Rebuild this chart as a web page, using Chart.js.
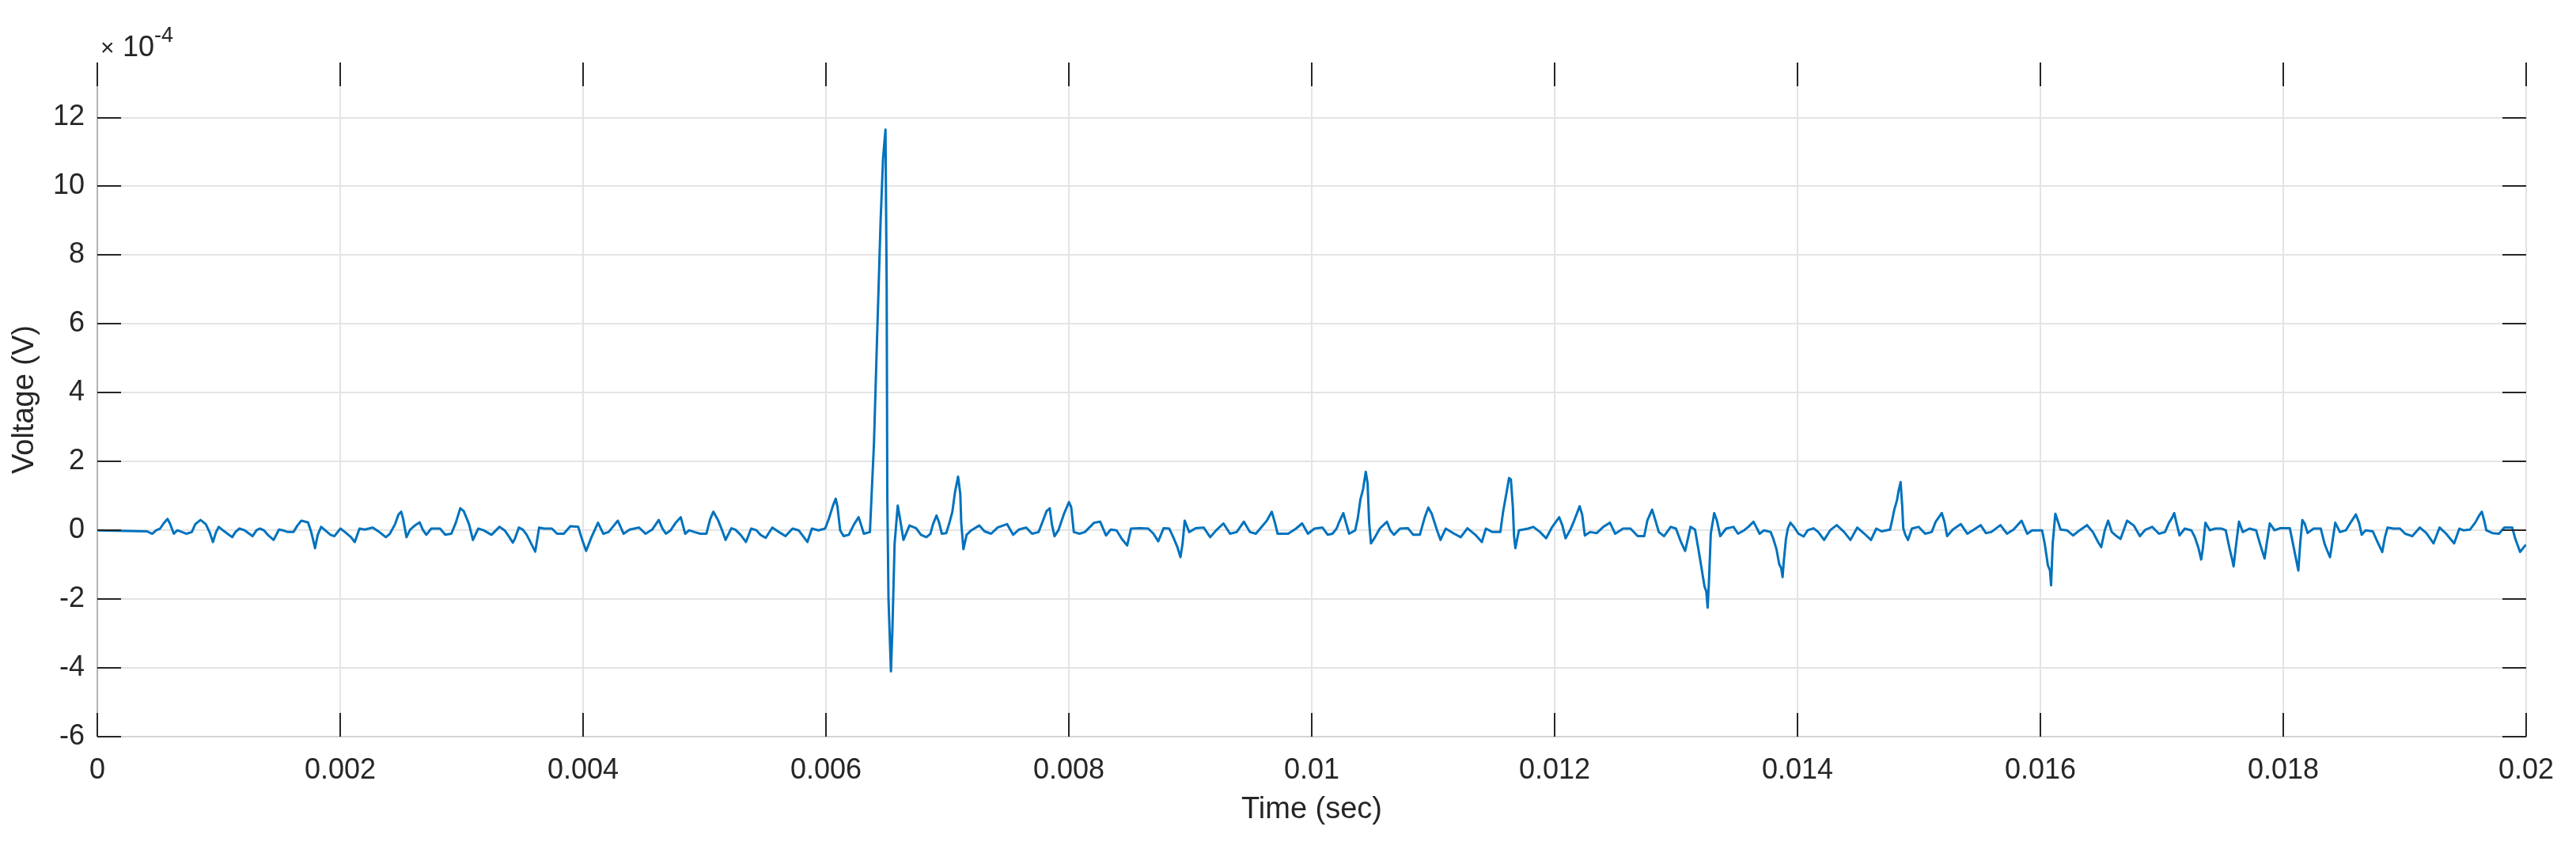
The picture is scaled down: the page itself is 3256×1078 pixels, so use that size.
<!DOCTYPE html>
<html>
<head>
<meta charset="utf-8">
<script src="https://cdn.jsdelivr.net/npm/chart.js@4.4.1/dist/chart.umd.min.js"></script>
<style>
  body { margin: 0; background: #fff; }
  canvas { display: block; }
</style>
</head>
<body>
<canvas id="voltageChart" width="3256" height="1078"></canvas>
<script>
// [time (ms), voltage (x1e-4 V)], split in chunks
var trace0to3 = [[0,0],[0.409,-0.03],[0.452,-0.1],[0.485,0],[0.517,0.05],[0.546,0.2],[0.578,0.33],[0.598,0.2],[0.630,-0.1],[0.659,0],
  [0.698,-0.05],[0.735,-0.1],[0.778,-0.05],[0.807,0.18],[0.850,0.3],[0.893,0.18],[0.924,-0.05],[0.952,-0.34],[0.978,-0.05],[1.000,0.1],
  [1.028,0.02],[1.072,-0.1],[1.111,-0.2],[1.137,-0.05],[1.170,0.05],[1.213,0],[1.278,-0.17],[1.311,0],[1.337,0.05],[1.372,0],
  [1.409,-0.15],[1.452,-0.28],[1.496,0.02],[1.528,0],[1.567,-0.05],[1.615,-0.05],[1.648,0.14],[1.680,0.28],[1.735,0.23],[1.757,0],
  [1.772,-0.2],[1.793,-0.52],[1.815,-0.13],[1.843,0.1],[1.876,0],[1.920,-0.13],[1.952,-0.17],[2.002,0.05],[2.039,-0.05],[2.089,-0.2],
  [2.120,-0.34],[2.159,0.05],[2.202,0.02],[2.268,0.08],[2.322,-0.05],[2.376,-0.2],[2.409,-0.1],[2.452,0.18],[2.480,0.46],[2.502,0.54],
  [2.517,0.35],[2.546,-0.2],[2.576,0.02],[2.615,0.14],[2.654,0.23],[2.680,0.02],[2.709,-0.13],[2.750,0.05],[2.822,0.05],[2.865,-0.13],
  [2.915,-0.1],[2.952,0.22],[2.989,0.64],[3.017,0.56],[3.061,0.18],[3.093,-0.28],[3.137,0.05],[3.180,0],[3.246,-0.13],[3.311,0.1],
  [3.354,0],[3.393,-0.2]];

var trace3to6 = [[3.421,-0.36],[3.438,-0.25],[3.471,0.08],[3.504,0.02],[3.536,-0.13],[3.569,-0.36],[3.606,-0.62],[3.638,0.08],[3.678,0.05],[3.743,0.05],
  [3.786,-0.1],[3.841,-0.1],[3.895,0.12],[3.960,0.1],[3.993,-0.28],[4.025,-0.6],[4.069,-0.2],[4.095,0],[4.123,0.22],[4.167,-0.1],
  [4.210,-0.05],[4.254,0.14],[4.286,0.28],[4.334,-0.1],[4.384,0.02],[4.460,0.08],[4.515,-0.1],[4.569,0.02],[4.623,0.3],[4.652,0.06],
  [4.682,-0.1],[4.721,0],[4.765,0.23],[4.804,0.38],[4.841,-0.1],[4.873,0],[4.917,-0.05],[4.965,-0.1],[5.015,-0.1],[5.047,0.33],
  [5.073,0.54],[5.112,0.29],[5.145,0],[5.173,-0.28],[5.221,0.06],[5.254,0.02],[5.297,-0.13],[5.341,-0.34],[5.384,0.05],[5.428,0],
  [5.460,-0.13],[5.504,-0.22],[5.558,0.08],[5.612,-0.05],[5.667,-0.17],[5.725,0.05],[5.775,0],[5.847,-0.34],[5.884,0.05],[5.938,0],
  [5.993,0.05],[6.025,0.35],[6.058,0.72],[6.080,0.92],[6.095,0.68],[6.117,0],[6.145,-0.17],[6.188,-0.13],[6.232,0.18],[6.269,0.38],
  [6.291,0.14],[6.312,-0.1],[6.362,-0.05]];

var spike = [[6.378,1.2],[6.395,2.5],[6.42,5.5],[6.45,9.0],[6.47,10.8],[6.49,11.65],[6.50,7.0],[6.505,1.0],[6.515,-2.0],[6.535,-4.1],
  [6.547,-2.9],[6.565,-0.4],[6.591,0.72],[6.608,0.37],[6.638,-0.28],[6.688,0.14],[6.743,0.06],[6.782,-0.13]];

var trace7to10 = [[6.827,-0.2],[6.860,-0.1],[6.882,0.18],[6.910,0.43],[6.932,0.22],[6.954,-0.1],[6.991,-0.08],[7.019,0.25],[7.041,0.54],[7.062,1.1],
  [7.088,1.56],[7.106,1.06],[7.114,0.22],[7.132,-0.55],[7.158,-0.13],[7.197,0],[7.262,0.14],[7.306,-0.03],[7.360,-0.1],[7.414,0.08],
  [7.491,0.18],[7.541,-0.13],[7.588,0.02],[7.649,0.08],[7.697,-0.1],[7.751,-0.05],[7.788,0.29],[7.817,0.56],[7.843,0.64],[7.860,0.18],
  [7.882,-0.17],[7.914,0],[7.958,0.46],[8.001,0.82],[8.019,0.68],[8.041,-0.05],[8.088,-0.1],[8.132,-0.05],[8.208,0.22],[8.258,0.25],
  [8.306,-0.15],[8.345,0.02],[8.393,0],[8.436,-0.25],[8.480,-0.44],[8.512,0.05],[8.588,0.06],[8.654,0.05],[8.697,-0.1],[8.736,-0.32],
  [8.780,0.06],[8.827,0.05],[8.860,-0.2],[8.893,-0.48],[8.919,-0.78],[8.936,-0.4],[8.954,0.28],[8.991,-0.05],[9.045,0.06],[9.110,0.08],
  [9.164,-0.2],[9.219,0.02],[9.273,0.2],[9.327,-0.1],[9.382,-0.05],[9.441,0.25],[9.491,-0.05],[9.540,-0.1],[9.588,0.1],[9.632,0.29],
  [9.671,0.54],[9.697,0.22],[9.719,-0.1],[9.806,-0.1],[9.871,0.05],[9.921,0.2],[9.969,-0.1],[10.023,0.05],[10.088,0.08],[10.132,-0.13],
  [10.171,-0.1]];

var trace10to13 = [[10.206,0.06],[10.227,0.25],[10.260,0.5],[10.282,0.22],[10.308,-0.1],[10.358,0],[10.380,0.37],[10.401,0.9],[10.423,1.2],[10.445,1.7],
  [10.460,1.36],[10.473,0.22],[10.488,-0.38],[10.521,-0.2],[10.560,0.05],[10.619,0.25],[10.647,0],[10.677,-0.13],[10.727,0.05],[10.793,0.06],
  [10.836,-0.13],[10.890,-0.13],[10.930,0.37],[10.960,0.66],[10.988,0.48],[11.032,0],[11.060,-0.28],[11.103,0.05],[11.173,-0.1],[11.227,-0.2],
  [11.282,0.06],[11.347,-0.13],[11.401,-0.34],[11.434,0.05],[11.488,-0.05],[11.553,-0.05],[11.575,0.52],[11.608,1.18],[11.625,1.52],[11.640,1.48],
  [11.656,0.68],[11.666,-0.17],[11.677,-0.52],[11.706,0],[11.782,0.05],[11.825,0.1],[11.880,-0.05],[11.930,-0.23],[11.977,0.08],[12.038,0.38],
  [12.064,0.14],[12.090,-0.23],[12.130,0.02],[12.162,0.29],[12.206,0.7],[12.227,0.45],[12.249,-0.15],[12.293,-0.05],[12.347,-0.08],[12.401,0.1],
  [12.456,0.22],[12.499,-0.1],[12.564,0.05],[12.625,0.05],[12.684,-0.17],[12.738,-0.17],[12.764,0.29],[12.803,0.6],[12.830,0.29],[12.858,-0.05],
  [12.901,-0.17],[12.956,0.1],[12.999,0.05],[13.038,-0.32],[13.075,-0.6],[13.119,0.1],[13.156,0.02],[13.184,-0.55],[13.206,-1.02],[13.234,-1.63],
  [13.249,-1.78],[13.260,-2.25],[13.271,-1.48],[13.286,-0.1],[13.314,0.5],[13.336,0.29],[13.364,-0.17],[13.412,0.05],[13.473,0.1],[13.510,-0.1],
  [13.560,0]];

var trace13to17 = [[13.595,0.1],[13.638,0.25],[13.660,0.1],[13.688,-0.1],[13.725,0],[13.779,-0.05],[13.801,-0.25],[13.827,-0.55],[13.849,-0.98],[13.866,-1.1],
  [13.877,-1.36],[13.888,-0.86],[13.905,-0.25],[13.921,0.06],[13.942,0.22],[13.975,0.08],[14.008,-0.1],[14.051,-0.18],[14.084,0],[14.132,0.06],
  [14.171,-0.05],[14.219,-0.28],[14.269,0],[14.323,0.15],[14.384,-0.05],[14.436,-0.28],[14.492,0.08],[14.551,-0.1],[14.605,-0.28],[14.649,0.05],
  [14.692,-0.03],[14.762,0.02],[14.779,0.29],[14.797,0.6],[14.819,0.87],[14.832,1.14],[14.849,1.4],[14.862,0.72],[14.871,0.06],[14.888,-0.13],
  [14.910,-0.28],[14.942,0.05],[14.997,0.1],[15.051,-0.1],[15.105,-0.05],[15.138,0.25],[15.188,0.5],[15.210,0.25],[15.232,-0.17],[15.279,0.02],
  [15.345,0.18],[15.399,-0.1],[15.453,0.02],[15.508,0.15],[15.551,-0.08],[15.595,-0.05],[15.671,0.15],[15.725,-0.1],[15.779,0.02],[15.845,0.28],
  [15.892,-0.1],[15.932,0],[16.014,0],[16.036,-0.4],[16.062,-1.02],[16.079,-1.17],[16.088,-1.6],[16.101,-0.4],[16.123,0.48],[16.145,0.25],
  [16.166,0.02],[16.219,0],[16.269,-0.15],[16.323,0],[16.384,0.15],[16.432,-0.05],[16.475,-0.34],[16.501,-0.49],[16.530,0],[16.558,0.28],
  [16.588,-0.05],[16.627,-0.17],[16.660,-0.25],[16.714,0.28],[16.769,0.14],[16.819,-0.17],[16.866,0.02],[16.921,0.1],[16.949,0]];

var trace17to20 = [[16.976,-0.1],[17.026,-0.05],[17.059,0.22],[17.085,0.37],[17.102,0.5],[17.120,0.22],[17.146,-0.15],[17.189,0.05],[17.243,0],[17.272,-0.2],
  [17.302,-0.52],[17.324,-0.85],[17.337,-0.55],[17.359,0.22],[17.396,0],[17.439,0.05],[17.493,0.05],[17.526,0],[17.559,-0.55],[17.580,-0.86],
  [17.591,-1.05],[17.607,-0.55],[17.635,0.25],[17.667,-0.05],[17.722,0.05],[17.776,0],[17.809,-0.4],[17.846,-0.82],[17.863,-0.4],[17.889,0.2],
  [17.928,0],[17.972,0.06],[18.054,0.06],[18.076,-0.32],[18.102,-0.78],[18.124,-1.17],[18.139,-0.4],[18.157,0.3],[18.178,0.18],[18.200,-0.08],
  [18.250,0.05],[18.309,0.05],[18.341,-0.4],[18.363,-0.6],[18.385,-0.78],[18.402,-0.4],[18.428,0.22],[18.467,-0.05],[18.515,0],[18.559,0.25],
  [18.598,0.46],[18.624,0.22],[18.646,-0.13],[18.678,0],[18.737,-0.03],[18.776,-0.34],[18.815,-0.63],[18.837,-0.2],[18.859,0.08],[18.907,0.05],
  [18.961,0.05],[19.004,-0.1],[19.063,-0.17],[19.124,0.08],[19.178,-0.08],[19.237,-0.38],[19.287,0.08],[19.341,-0.1],[19.407,-0.38],[19.450,0.05],
  [19.483,0],[19.537,0.02],[19.580,0.22],[19.613,0.43],[19.635,0.54],[19.657,0.25],[19.672,0],[19.722,-0.08],[19.776,-0.1],[19.820,0.08],
  [19.885,0.08],[19.911,-0.25],[19.950,-0.63],[19.983,-0.48],[20.0,-0.42]];

var xTicks = [0, 0.002, 0.004, 0.006, 0.008, 0.01, 0.012, 0.014, 0.016, 0.018, 0.02];
var yTicks = [-6, -4, -2, 0, 2, 4, 6, 8, 10, 12];
var yMin = -6, yMax = 13.6;
var yExponent = '-4';

var points = [].concat(trace0to3, trace3to6, spike, trace7to10, trace10to13, trace13to17, trace17to20)
  .map(function(p) { return { x: p[0] / 1000, y: p[1] }; });

var textColor = '#262626';
var fontFamily = "'Liberation Sans', Arial, Helvetica, sans-serif";

// MATLAB style box: inward tick marks on all sides, grey left/bottom axis lines, x10^-4 label
var matlabAxes = {
  id: 'matlabAxes',
  afterDatasetsDraw: function(chart) {
    var ctx = chart.ctx, a = chart.chartArea;
    var xs = chart.scales.x, ys = chart.scales.y;
    var len = 30;
    ctx.save();
    ctx.lineWidth = 2;
    ctx.strokeStyle = '#b4b4b4';
    ctx.beginPath(); ctx.moveTo(a.left, a.top); ctx.lineTo(a.left, a.bottom); ctx.stroke();
    ctx.strokeStyle = '#d4d4d4';
    ctx.beginPath(); ctx.moveTo(a.left, a.bottom); ctx.lineTo(a.right, a.bottom); ctx.stroke();

    ctx.strokeStyle = textColor;
    ctx.beginPath();
    yTicks.forEach(function(v) {
      var y = Math.round(ys.getPixelForValue(v));
      ctx.moveTo(a.left, y); ctx.lineTo(a.left + len, y);
      ctx.moveTo(a.right, y); ctx.lineTo(a.right - len, y);
    });
    xTicks.forEach(function(v) {
      var x = Math.round(xs.getPixelForValue(v));
      ctx.moveTo(x, a.top); ctx.lineTo(x, a.top + len);
      ctx.moveTo(x, a.bottom); ctx.lineTo(x, a.bottom - len);
    });
    ctx.stroke();

    ctx.fillStyle = textColor;
    ctx.textBaseline = 'alphabetic';
    ctx.textAlign = 'left';
    ctx.font = '30px ' + fontFamily;
    ctx.fillText('\u00d7', a.left + 4, 70);
    ctx.font = '36px ' + fontFamily;
    ctx.fillText('10', a.left + 32, 71);
    ctx.font = '27px ' + fontFamily;
    ctx.fillText(yExponent, a.left + 72, 53);
    ctx.restore();
  }
};

var ctx = document.getElementById('voltageChart').getContext('2d');

var voltageChart = new Chart(ctx, {
  type: 'line',
  data: {
    datasets: [{
      label: 'Voltage',
      data: points,
      borderColor: '#0072BD',
      borderWidth: 3,
      pointRadius: 0,
      tension: 0,
      fill: false,
      borderJoinStyle: 'round'
    }]
  },
  options: {
    responsive: false,
    animation: false,
    devicePixelRatio: 1,
    layout: { padding: { top: 79, right: 63, left: 0, bottom: 0 } },
    plugins: { legend: { display: false }, tooltip: { enabled: false } },
    scales: {
      x: {
        type: 'linear',
        min: 0,
        max: 0.02,
        afterFit: function(s) { s.height = 147; },
        afterBuildTicks: function(s) { s.ticks = xTicks.map(function(v) { return { value: v }; }); },
        grid: { color: '#e4e4e4', lineWidth: 2, drawTicks: false },
        border: { display: false },
        ticks: {
          autoSkip: false,
          maxRotation: 0,
          padding: 21,
          color: textColor,
          font: { family: fontFamily, size: 36 },
          callback: function(v) { return String(v); }
        },
        title: {
          display: true,
          text: 'Time (sec)',
          color: textColor,
          font: { family: fontFamily, size: 38 },
          padding: { top: 0, bottom: 32 }
        }
      },
      y: {
        type: 'linear',
        min: yMin,
        max: yMax,
        afterFit: function(s) { s.width = 123; },
        afterBuildTicks: function(s) { s.ticks = yTicks.map(function(v) { return { value: v }; }); },
        grid: { color: '#e4e4e4', lineWidth: 2, drawTicks: false },
        border: { display: false },
        ticks: {
          padding: 16,
          color: textColor,
          font: { family: fontFamily, size: 36 },
          callback: function(v) { return String(v); }
        },
        title: {
          display: true,
          text: 'Voltage (V)',
          color: textColor,
          font: { family: fontFamily, size: 38 },
          padding: { top: 9, bottom: 0 }
        }
      }
    }
  },
  plugins: [matlabAxes]
});
</script>
</body>
</html>
